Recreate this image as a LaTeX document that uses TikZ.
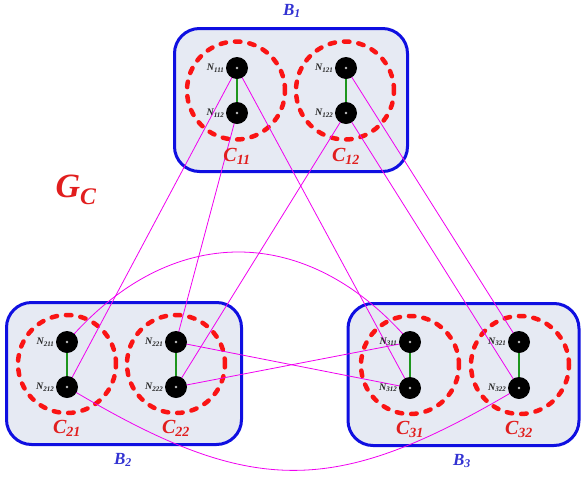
\documentclass[tikz,border=0pt]{standalone}
\usepackage{fontspec}
\setmainfont{Liberation Serif}
\pgfdeclarelayer{boxes}
\pgfdeclarelayer{links}
\pgfsetlayers{boxes,links,main}
\definecolor{boxblue}{RGB}{15,15,225}
\definecolor{boxfill}{RGB}{230,234,243}
\definecolor{clred}{RGB}{250,20,20}
\definecolor{lblred}{RGB}{225,30,30}
\definecolor{lblblue}{RGB}{50,50,210}
\definecolor{linkmag}{RGB}{240,0,240}
\definecolor{intragreen}{RGB}{30,150,30}
\begin{document}
\begin{tikzpicture}[x=1pt,y=-1pt,
 blockbox/.style={draw=boxblue, line width=3pt, fill=boxfill, rounded corners=25pt, inner sep=0pt, rectangle},
 cluster/.style={circle, draw=clred, line width=4.5pt, dash pattern=on 5.5pt off 9pt, line cap=round, minimum size=98pt, inner sep=0pt},
 vert/.style={circle, fill=black, minimum size=22pt, inner sep=0pt,
   path picture={\fill[gray!50] (path picture bounding box.center) circle (1.3pt);}},
 nlab/.style={font=\fontsize{10}{10}\selectfont\bfseries\itshape, text=black!85, inner sep=1.2pt},
 clab/.style={font=\fontsize{20}{20}\selectfont\bfseries\itshape, text=lblred, inner sep=0pt},
 blab/.style={font=\fontsize{17}{17}\selectfont\bfseries\itshape, text=lblblue, inner sep=0pt},
 glab/.style={font=\fontsize{34}{34}\selectfont\bfseries\itshape, text=lblred, inner sep=0pt},
 link/.style={draw=linkmag, line width=0.8pt},
 intra/.style={draw=intragreen, line width=1.6pt}]
\useasboundingbox (0,0) rectangle (582,491);

\begin{pgfonlayer}{boxes}
\node[blockbox, minimum width=233pt, minimum height=143pt] (B1) at (291,100) {};
\node[blockbox, minimum width=235pt, minimum height=142pt] (B2) at (124,373.5) {};
\node[blockbox, minimum width=231pt, minimum height=142pt] (B3) at (463.5,374.5) {};
\node[cluster] (C11) at (236,90.5) {};
\node[cluster] (C12) at (345,90.5) {};
\node[cluster] (C21) at (67,364) {};
\node[cluster] (C22) at (176,364) {};
\node[cluster] (C31) at (410,365) {};
\node[cluster] (C32) at (520,365) {};
\end{pgfonlayer}

\node[vert, label={[nlab]left:N\textsubscript{111}}] (n111) at (237,68) {};
\node[vert, label={[nlab]left:N\textsubscript{112}}] (n112) at (237,113) {};
\node[vert, label={[nlab]left:N\textsubscript{121}}] (n121) at (346,68) {};
\node[vert, label={[nlab]left:N\textsubscript{122}}] (n122) at (346,113) {};
\node[vert, label={[nlab]left:N\textsubscript{211}}] (n211) at (67,342) {};
\node[vert, label={[nlab]left:N\textsubscript{212}}] (n212) at (67,387) {};
\node[vert, label={[nlab]left:N\textsubscript{221}}] (n221) at (176,342) {};
\node[vert, label={[nlab]left:N\textsubscript{222}}] (n222) at (176,387) {};
\node[vert, label={[nlab]left:N\textsubscript{311}}] (n311) at (410,342) {};
\node[vert, label={[nlab]left:N\textsubscript{312}}] (n312) at (410,388) {};
\node[vert, label={[nlab]left:N\textsubscript{321}}] (n321) at (519,342) {};
\node[vert, label={[nlab]left:N\textsubscript{322}}] (n322) at (519,388) {};

\begin{pgfonlayer}{links}
\draw[intra] (n111.center) -- (n112.center);
\draw[intra] (n121.center) -- (n122.center);
\draw[intra] (n211.center) -- (n212.center);
\draw[intra] (n221.center) -- (n222.center);
\draw[intra] (n311.center) -- (n312.center);
\draw[intra] (n321.center) -- (n322.center);
\draw[link] (n111.center) -- (n212.center);
\draw[link] (n111.center) -- (n312.center);
\draw[link] (n112.center) -- (n221.center);
\draw[link] (n122.center) -- (n222.center);
\draw[link] (n122.center) -- (n322.center);
\draw[link] (n121.center) -- (n321.center);
\draw[link] (n221.center) -- (n312.center);
\draw[link] (n222.center) -- (n311.center);
\draw[link] (n211.center) .. controls (170,222) and (307,222) .. (n311.center);
\draw[link] (n212.center) .. controls (252,498) and (334,498) .. (n322.center);
\end{pgfonlayer}

\node[clab] (l11) at (237,156) {C\textsubscript{11}};
\node[clab] (l12) at (346,156) {C\textsubscript{12}};
\node[clab] (l21) at (67,428) {C\textsubscript{21}};
\node[clab] (l22) at (176,428) {C\textsubscript{22}};
\node[clab] (l31) at (410,429) {C\textsubscript{31}};
\node[clab] (l32) at (519,429) {C\textsubscript{32}};
\node[blab] (lb1) at (292,11) {B\textsubscript{1}};
\node[blab] (lb2) at (123,460) {B\textsubscript{2}};
\node[blab] (lb3) at (462,461) {B\textsubscript{3}};
\node[glab] (lg) at (76,190) {G\textsubscript{C}};
\end{tikzpicture}
\end{document}
